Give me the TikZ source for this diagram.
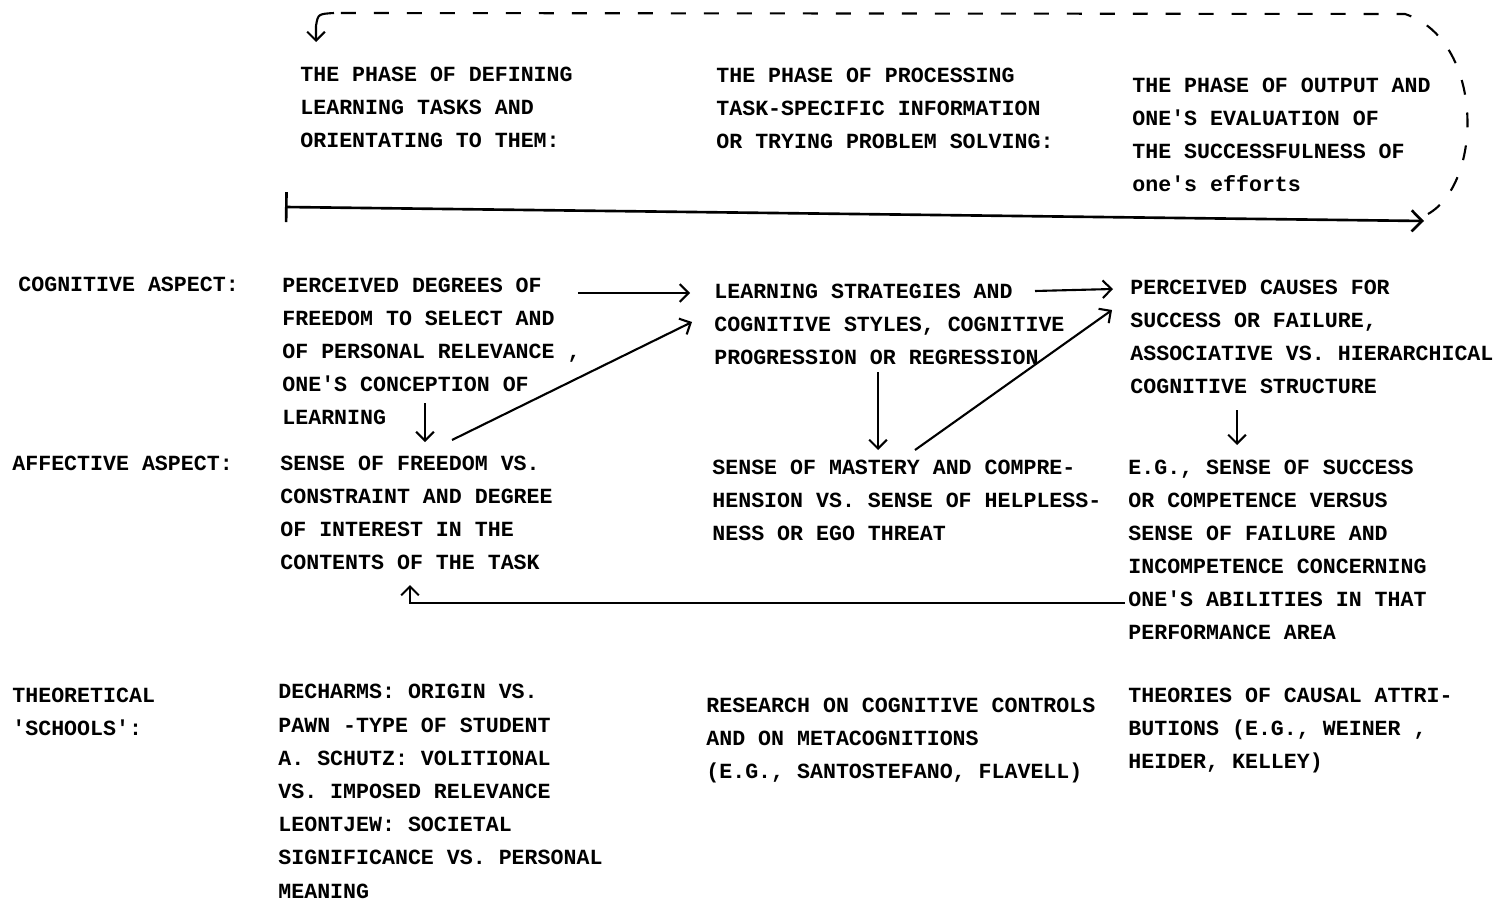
\documentclass[tikz,border=0pt]{standalone}
\usepackage{fontspec}
\newfontfamily\typefont{Liberation Mono}
\usetikzlibrary{calc,arrows.meta}
\tikzset{
	txt/.style={anchor=north west, inner sep=0pt, align=left, font=\typefont\bfseries\fontsize{12.3}{18.8}\selectfont},
	arr/.style={-{Straight Barb[length=5pt,width=10pt]}, line width=1.2pt}
}

\begin{document}
\begin{tikzpicture}[x=0.02cm, y=-0.02cm]
				\useasboundingbox (0,0) rectangle (1502,906);
				
				\node[txt] (head1) at (300,67) {THE PHASE OF DEFINING\\LEARNING TASKS AND\\ORIENTATING TO THEM:};
				\node[txt] (head2) at (716,68) {THE PHASE OF PROCESSING\\TASK-SPECIFIC INFORMATION\\OR TRYING PROBLEM SOLVING:};
				\node[txt] (head3) at (1132,78) {THE PHASE OF OUTPUT AND\\ONE'S EVALUATION OF\\THE SUCCESSFULNESS OF\\one's efforts};
				
				\node[txt] (labcog) at (18,277) {COGNITIVE ASPECT:};
				\node[txt] (labaff) at (12,456) {AFFECTIVE ASPECT:};
				\node[txt] (labth) at (12,688) {THEORETICAL\\'SCHOOLS':};
				
				\node[txt] (cogA) at (282,278) {PERCEIVED DEGREES OF\\FREEDOM TO SELECT AND\\OF PERSONAL RELEVANCE ,\\ONE'S CONCEPTION OF\\LEARNING};
				\node[txt] (cogB) at (714,284) {LEARNING STRATEGIES AND\\COGNITIVE STYLES, COGNITIVE\\PROGRESSION OR REGRESSION};
				\node[txt] (cogC) at (1130,280) {PERCEIVED CAUSES FOR\\SUCCESS OR FAILURE,\\ASSOCIATIVE VS. HIERARCHICAL\\COGNITIVE STRUCTURE};
				
				\node[txt] (affA) at (280,456) {SENSE OF FREEDOM VS.\\CONSTRAINT AND DEGREE\\OF INTEREST IN THE\\CONTENTS OF THE TASK};
				\node[txt] (affB) at (712,460) {SENSE OF MASTERY AND COMPRE-\\HENSION VS. SENSE OF HELPLESS-\\NESS OR EGO THREAT};
				\node[txt] (affC) at (1128,460) {E.G., SENSE OF SUCCESS\\OR COMPETENCE VERSUS\\SENSE OF FAILURE AND\\INCOMPETENCE CONCERNING\\ONE'S ABILITIES IN THAT\\PERFORMANCE AREA};
				
				\node[txt, font=\typefont\bfseries\fontsize{12.3}{18.9}\selectfont] (thA) at (278,684) {DECHARMS: ORIGIN VS.\\PAWN -TYPE OF STUDENT\\A. SCHUTZ: VOLITIONAL\\VS. IMPOSED RELEVANCE\\LEONTJEW: SOCIETAL\\SIGNIFICANCE VS. PERSONAL\\MEANING};
				\node[txt] (thB) at (706,698) {RESEARCH ON COGNITIVE CONTROLS\\AND ON METACOGNITIONS\\(E.G., SANTOSTEFANO, FLAVELL)};
				\node[txt] (thC) at (1128,688) {THEORIES OF CAUSAL ATTRI-\\BUTIONS (E.G., WEINER ,\\HEIDER, KELLEY)};
				
				\coordinate (tl0) at (285,207);
				\coordinate (tl1) at (1424,221);
				\draw[line width=1.5pt, {Bar[width=0.6cm]}-{Straight Barb[length=6pt,width=12pt]}] (tl0) -- (tl1);
				
				\coordinate (loop0) at (1428,214);
				\coordinate (loop1) at (1405,14);
				\coordinate (loop2) at (334,13);
				\coordinate (loop3) at (316,42);
				\draw[line width=1.2pt, dash pattern=on 0.3cm off 0.36cm] (loop0) .. controls (1484,182) and (1484,40) .. (loop1) -- (loop2);
				\draw[arr] (loop2) .. controls (318,14) .. (316,26) -- (loop3);
				
				\draw[arr] ($(cogA.north east)+(-3,15)$) -- ($(cogB.north west)+(-24,9)$);
				\draw[arr] ($(cogB.north west)+(321,7)$) -- ($(cogC.north west)+(-17,9)$);
				\draw[arr] ($(affA.north west)+(172,-16)$) -- ($(cogB.north west)+(-22,38)$);
				\draw[arr] ($(affB.north west)+(203,-10)$) -- ($(cogC.north west)+(-18,30)$);
				
				\draw[arr] ($(cogA.north west)+(143,125)$) -- ($(affA.north west)+(145,-14)$);
				\draw[arr] ($(cogB.north west)+(164,88)$) -- ($(affB.north west)+(166,-10)$);
				\draw[arr] ($(cogC.north west)+(107,130)$) -- ($(affC.north west)+(109,-15)$);
				
				\draw[arr] ($(affC.north west)+(-3,143)$) -| ($(affA.north west)+(130,129)$);
\end{tikzpicture}
\end{document}
